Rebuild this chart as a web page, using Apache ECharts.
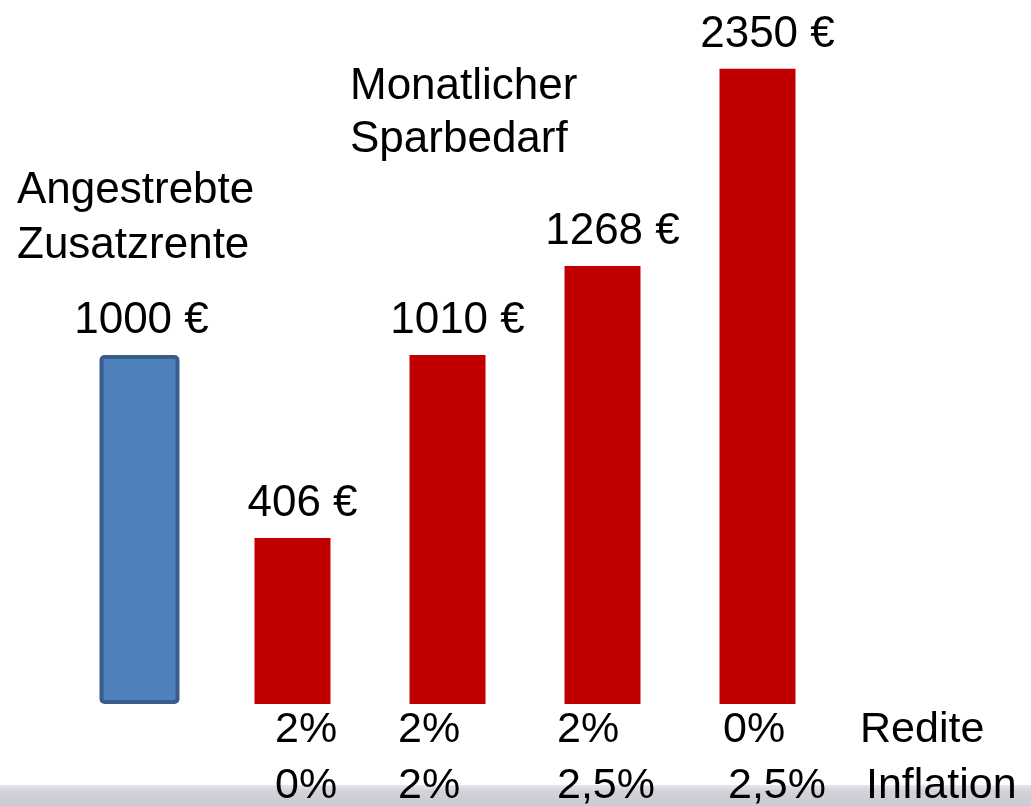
<!DOCTYPE html>
<html lang="de">
<head>
    <meta charset="UTF-8">
    <title>Sparbedarf</title>
    <script src="https://cdn.jsdelivr.net/npm/echarts@6/dist/echarts.min.js"></script>
</head>
<style>
html,body{margin:0;padding:0;background-color:#ffffff}
#chartBox{width:1031px;height:806px}
</style>
<body>
    <div id="chartBox"></div>
</body>
<script>
// bar data (heights as drawn in the picture, labels as printed)
const categories = ['Zusatzrente', 'A', 'B', 'C', 'D'];
const zielHeights = [1000, '-', '-', '-', '-'];
const sparHeights = ['-', 476, 1000, 1255, 1820];
const valueLabels = ['1000 €', '406 €', '1010 €', '1268 €', '2350 €'];
// rows under the red bars
const renditeRow = ['2%', '2%', '2%', '0%'];
const inflationRow = ['0%', '2%', '2,5%', '2,5%'];
const rowNames = ['Redite', 'Inflation'];

const FONT = '"Liberation Sans", Arial, sans-serif';
const rowLeft = [275, 398, 557, 723];

function textEl(text, x, y, size, lh) {
    return {
        type: 'text', x: x, y: y, z: 10,
        style: {text: text, font: size + 'px ' + FONT, fill: '#000', lineHeight: lh || size, textVerticalAlign: 'top'}
    };
}

function barLabel(dx) {
    return {
        show: true,
        position: 'top',
        distance: 12,
        offset: [dx, 0],
        fontFamily: FONT,
        fontSize: 44,
        color: '#000',
        formatter: p => valueLabels[p.dataIndex]
    };
}

let chartObj = echarts.init(document.getElementById('chartBox'));

let graphics = [
    {
        type: 'rect', left: 0, top: 785, z: 1,
        shape: {width: 1031, height: 21},
        style: {fill: new echarts.graphic.LinearGradient(0, 0, 0, 1, [
            {offset: 0, color: '#e6e6ec'}, {offset: 0.3, color: '#d2d3da'}, {offset: 1, color: '#c9cad2'}
        ])}
    },
    textEl('Angestrebte\nZusatzrente', 17, 163, 44, 55),
    textEl('Monatlicher\nSparbedarf', 350, 60, 44, 53)
];
renditeRow.forEach((t, i) => graphics.push(textEl(t, rowLeft[i], 709, 43)));
inflationRow.forEach((t, i) => graphics.push(textEl(t, rowLeft[i] + (i === 3 ? 5 : 0), 765, 43)));
graphics.push(textEl(rowNames[0], 860, 709, 43));
graphics.push(textEl(rowNames[1], 866, 765, 43));

let option = {
    animation: false,
    grid: {left: 62, right: 194, top: 6, bottom: 102},
    xAxis: {
        type: 'category',
        data: categories,
        axisLine: {show: false},
        axisTick: {show: false},
        axisLabel: {show: false}
    },
    yAxis: {
        type: 'value',
        min: 0,
        max: 2000,
        show: false
    },
    series: [
        {
            type: 'bar',
            name: 'Monatlicher Sparbedarf',
            barWidth: 76,
            barGap: '-100%',
            itemStyle: {color: '#c00000'},
            label: barLabel(10),
            data: sparHeights
        },
        {
            type: 'bar',
            name: 'Angestrebte Zusatzrente',
            barWidth: 80,
            itemStyle: {color: '#4f81bd', borderColor: '#385d8a', borderWidth: 4, borderRadius: 3},
            label: barLabel(2),
            data: zielHeights
        }
    ],
    graphic: graphics
};
chartObj.setOption(option);
</script>
</html>
